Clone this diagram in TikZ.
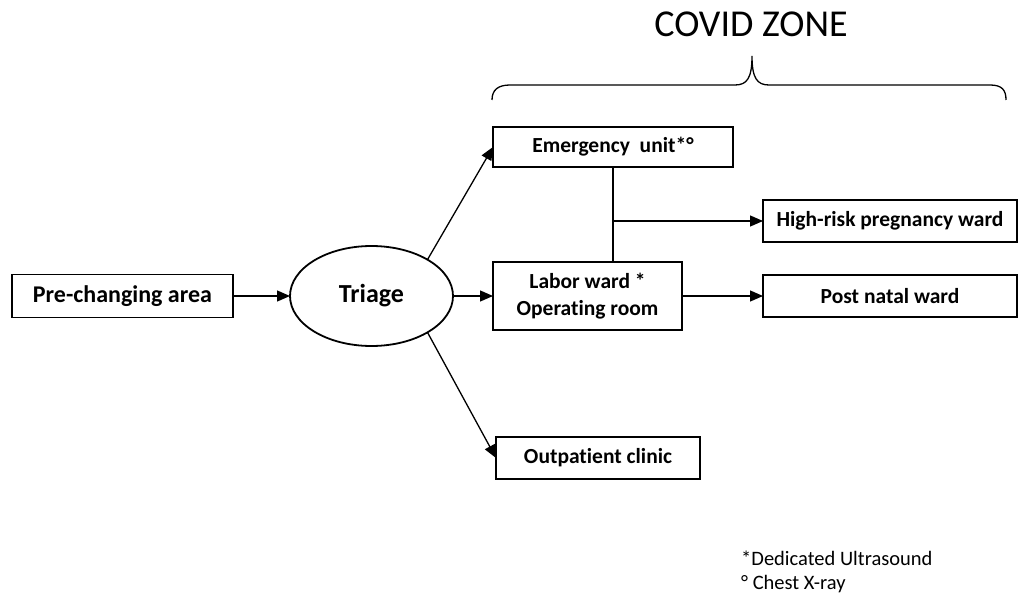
\documentclass[tikz,border=0pt]{standalone}
\usepackage{fontspec}
\setmainfont{Carlito}[Ligatures=NoCommon]
\usetikzlibrary{arrows.meta,positioning,shapes.geometric}

\begin{document}
\begin{tikzpicture}[x=1pt,y=-1pt,>={Triangle[length=13pt,width=11pt]},
  area/.style={draw,line width=1.8pt,inner sep=0pt,outer sep=0pt,align=center,
    font=\fontsize{21.5}{27}\selectfont\bfseries},
  link/.style={line width=1.3pt}]
  \useasboundingbox (0,0) rectangle (1019,596);
  % entrance and triage
  \node[area,minimum width=221pt,minimum height=43pt,
    font=\fontsize{24}{28}\selectfont\bfseries] (pre) at (122.5,296) {Pre-changing area};
  \node[area,ellipse,minimum width=163pt,minimum height=100pt,right=57pt of pre,
    font=\fontsize{26}{30}\selectfont\bfseries] (triage) {Triage};
  % covid zone
  \node[area,minimum width=189pt,minimum height=68pt,right=40pt of triage] (labor)
    {Labor ward *\\Operating room};
  \node[area,minimum width=240pt,minimum height=40pt,above=95pt of labor.north west,
    anchor=south west] (emerg) {Emergency\ \ unit*°};
  \node[area,minimum width=204pt,minimum height=42pt,below=107pt of labor.south west,
    anchor=north west,xshift=3pt] (outpat) {Outpatient clinic};
  \node[area,minimum width=254pt,minimum height=42pt,right=81pt of labor] (postnatal)
    {Post natal ward};
  \node[area,minimum width=254pt,minimum height=42pt,above=33pt of postnatal] (highrisk)
    {High-risk pregnancy ward};
  \draw[link,->] (pre) -- (triage);
  \draw[link,->] (triage) -- (labor);
  \draw[link,->] (triage.33) -- (emerg.west);
  \draw[link,->] (triage.-33) -- (outpat.west);
  \draw[link] (emerg.south) -- (emerg.south |- labor.north);
  \draw[link,->] (emerg.south |- highrisk.west) -- (highrisk.west);
  \draw[link,->] (labor) -- (postnatal);
  % brace and title
  \draw[link] (492,100) .. controls (492,90) and (498,85) .. (510,85) -- (735,85)
    .. controls (747,85) and (752,78) .. (752,56)
    .. controls (752,78) and (757,85) .. (769,85) -- (990,85)
    .. controls (1002,85) and (1006,90) .. (1006,100);
  \node[font=\fontsize{38}{44}\selectfont] (zone) at (751,24) {COVID ZONE};
  % footnotes
  \node[anchor=base west,align=left,inner sep=0pt,font=\fontsize{20.5}{24}\selectfont]
    (notes) at (741,589) {*Dedicated Ultrasound\\° Chest X-ray};
\end{tikzpicture}
\end{document}
